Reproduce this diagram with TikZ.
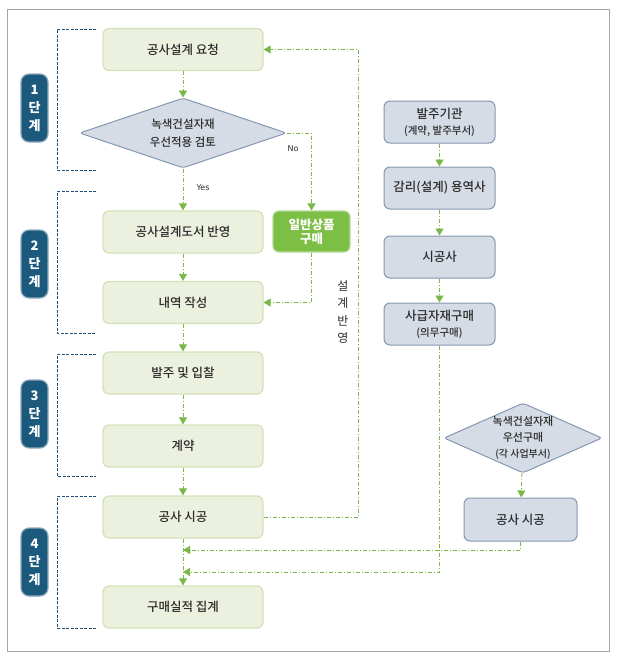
\documentclass[tikz,border=0pt]{standalone}
\usepackage{fontspec}
\setmainfont{Noto Sans CJK KR}
\newfontfamily\medfont{Noto Sans CJK KR}[UprightFont=* Medium]
\newfontfamily\latinfont{DejaVu Sans}
\usetikzlibrary{shapes.geometric,arrows.meta}
\definecolor{gfill}{HTML}{EBF1DE}
\definecolor{gborder}{HTML}{D3E2B6}
\definecolor{dgfill}{HTML}{7DBE45}
\definecolor{dgborder}{HTML}{B5D99A}
\definecolor{bfill}{HTML}{D6DCE5}
\definecolor{bborder}{HTML}{8497B0}
\definecolor{lgreen}{HTML}{7AB648}
\definecolor{navy}{HTML}{1F4E79}
\definecolor{stfill}{HTML}{1C5A7D}
\definecolor{stborder}{HTML}{8FA9BC}
\definecolor{txt}{HTML}{2B2B2B}
\tikzset{
  gbox/.style={draw=gborder, line width=1.2pt, fill=gfill, rounded corners=6pt, minimum width=160pt, minimum height=42pt, inner sep=0pt, text=txt, font=\medfont\fontsize{12.5}{14}\selectfont, align=center},
  bbox/.style={draw=bborder, line width=1pt, fill=bfill, rounded corners=6pt, minimum width=111pt, minimum height=42pt, inner sep=0pt, text=txt, font=\medfont\fontsize{12.5}{14}\selectfont, align=center},
  dmd/.style={diamond, draw=bborder, line width=1pt, fill=bfill, rounded corners=3pt, inner sep=0pt, text=txt, align=center},
  dgbox/.style={draw=dgborder, line width=1.2pt, fill=dgfill, rounded corners=6pt, minimum width=77pt, minimum height=41pt, inner sep=0pt, text=white, font=\fontsize{12.5}{15}\selectfont\bfseries, align=center},
  stage/.style={draw=stborder, line width=1.2pt, fill=stfill, rounded corners=8pt, minimum width=27pt, minimum height=68pt, inner sep=0pt, text=white, font=\fontsize{13}{18}\selectfont\bfseries, align=center},
  flow/.style={draw=lgreen, line width=0.8pt, dash pattern=on 4pt off 2pt on 1pt off 2pt, -{Triangle[length=7pt,width=8pt]}},
  bracket/.style={draw=navy, line width=0.8pt, dash pattern=on 3pt off 1.5pt},
  yn/.style={font=\latinfont\fontsize{8}{9}\selectfont, text=txt}
}
\begin{document}
\begin{tikzpicture}[x=1pt,y=-1pt]
\useasboundingbox (0,0) rectangle (619,661);
\draw[draw=black!35, line width=0.8pt] (7,9) rectangle (609,651);
% brackets
\draw[bracket] (96,29) -| (57,170) -- (96,170);
\draw[bracket] (96,191) -| (57,333) -- (96,333);
\draw[bracket] (96,354) -| (57,476) -- (96,476);
\draw[bracket] (96,496) -| (57,628) -- (96,628);
% stage labels
\node[stage] (s1) at (34.5,108) {1\\단\\계};
\node[stage] (s2) at (34.5,264) {2\\단\\계};
\node[stage] (s3) at (34.5,414) {3\\단\\계};
\node[stage] (s4) at (34.5,562) {4\\단\\계};
% left column
\node[gbox] (b1) at (183,49.5) {공사설계 요청};
\node[dmd, minimum width=207pt, minimum height=70pt, aspect=2.96, font=\medfont\fontsize{11.5}{18.5}\selectfont] (d1) at (183,133) {녹색건설자재\\우선적용 검토};
\node[gbox] (b2) at (183,232) {공사설계도서 반영};
\node[gbox] (b3) at (183,302.5) {내역 작성};
\node[gbox] (b4) at (183,373) {발주 및 입찰};
\node[gbox] (b5) at (183,446) {계약};
\node[gbox] (b6) at (183,517) {공사 시공};
\node[gbox] (b7) at (183,607) {구매실적 집계};
\node[dgbox] (g) at (311.5,231.5) {일반상품\\[-1pt]구매};
% right column
\node[bbox] (r1) at (439.5,122) {발주기관\\[2pt]{\fontsize{10.5}{13}\selectfont (계약, 발주부서)}};
\node[bbox] (r2) at (439.5,188) {감리(설계) 용역사};
\node[bbox] (r3) at (439.5,257) {시공사};
\node[bbox] (r4) at (439.5,324) {사급자재구매\\[2pt]{\fontsize{10.5}{13}\selectfont (의무구매)}};
\node[dmd, minimum width=158pt, minimum height=70pt, aspect=2.26, font=\medfont\fontsize{11}{16}\selectfont] (d2) at (523,438) {녹색건설자재\\우선구매\\{\fontsize{10}{12}\selectfont (각 사업부서)}};
\node[bbox, minimum width=113pt, minimum height=43pt] (r5) at (520.5,519.5) {공사 시공};
% labels
\node[yn] (yes) at (203,188) {Yes};
\node[yn] (no) at (293,149) {No};
\node[text=txt, font=\fontsize{12}{17.5}\selectfont, align=center] (sb) at (343,312) {설\\계\\반\\영};
% coordinates
\coordinate (m1) at (183,550);
\coordinate (m2) at (183,572);
% connectors
\draw[flow] (b1) -- (d1);
\draw[flow] (d1) -- (b2);
\draw[flow] (d1.east) -| (g.north);
\draw[flow] (g.south) |- (b3.east);
\draw[flow] (b2) -- (b3);
\draw[flow] (b3) -- (b4);
\draw[flow] (b4) -- (b5);
\draw[flow] (b5) -- (b6);
\draw[flow] (b6.east) -- ++(95,0) |- (b1.east);
\draw[flow] (b6) -- (b7);
\draw[flow] (r1) -- (r2);
\draw[flow] (r2) -- (r3);
\draw[flow] (r3) -- (r4);
\draw[flow] (d2) -- (r5);
\draw[flow] (r5.south) |- (m1);
\draw[flow] (r4.south) |- (m2);
\end{tikzpicture}
\end{document}
